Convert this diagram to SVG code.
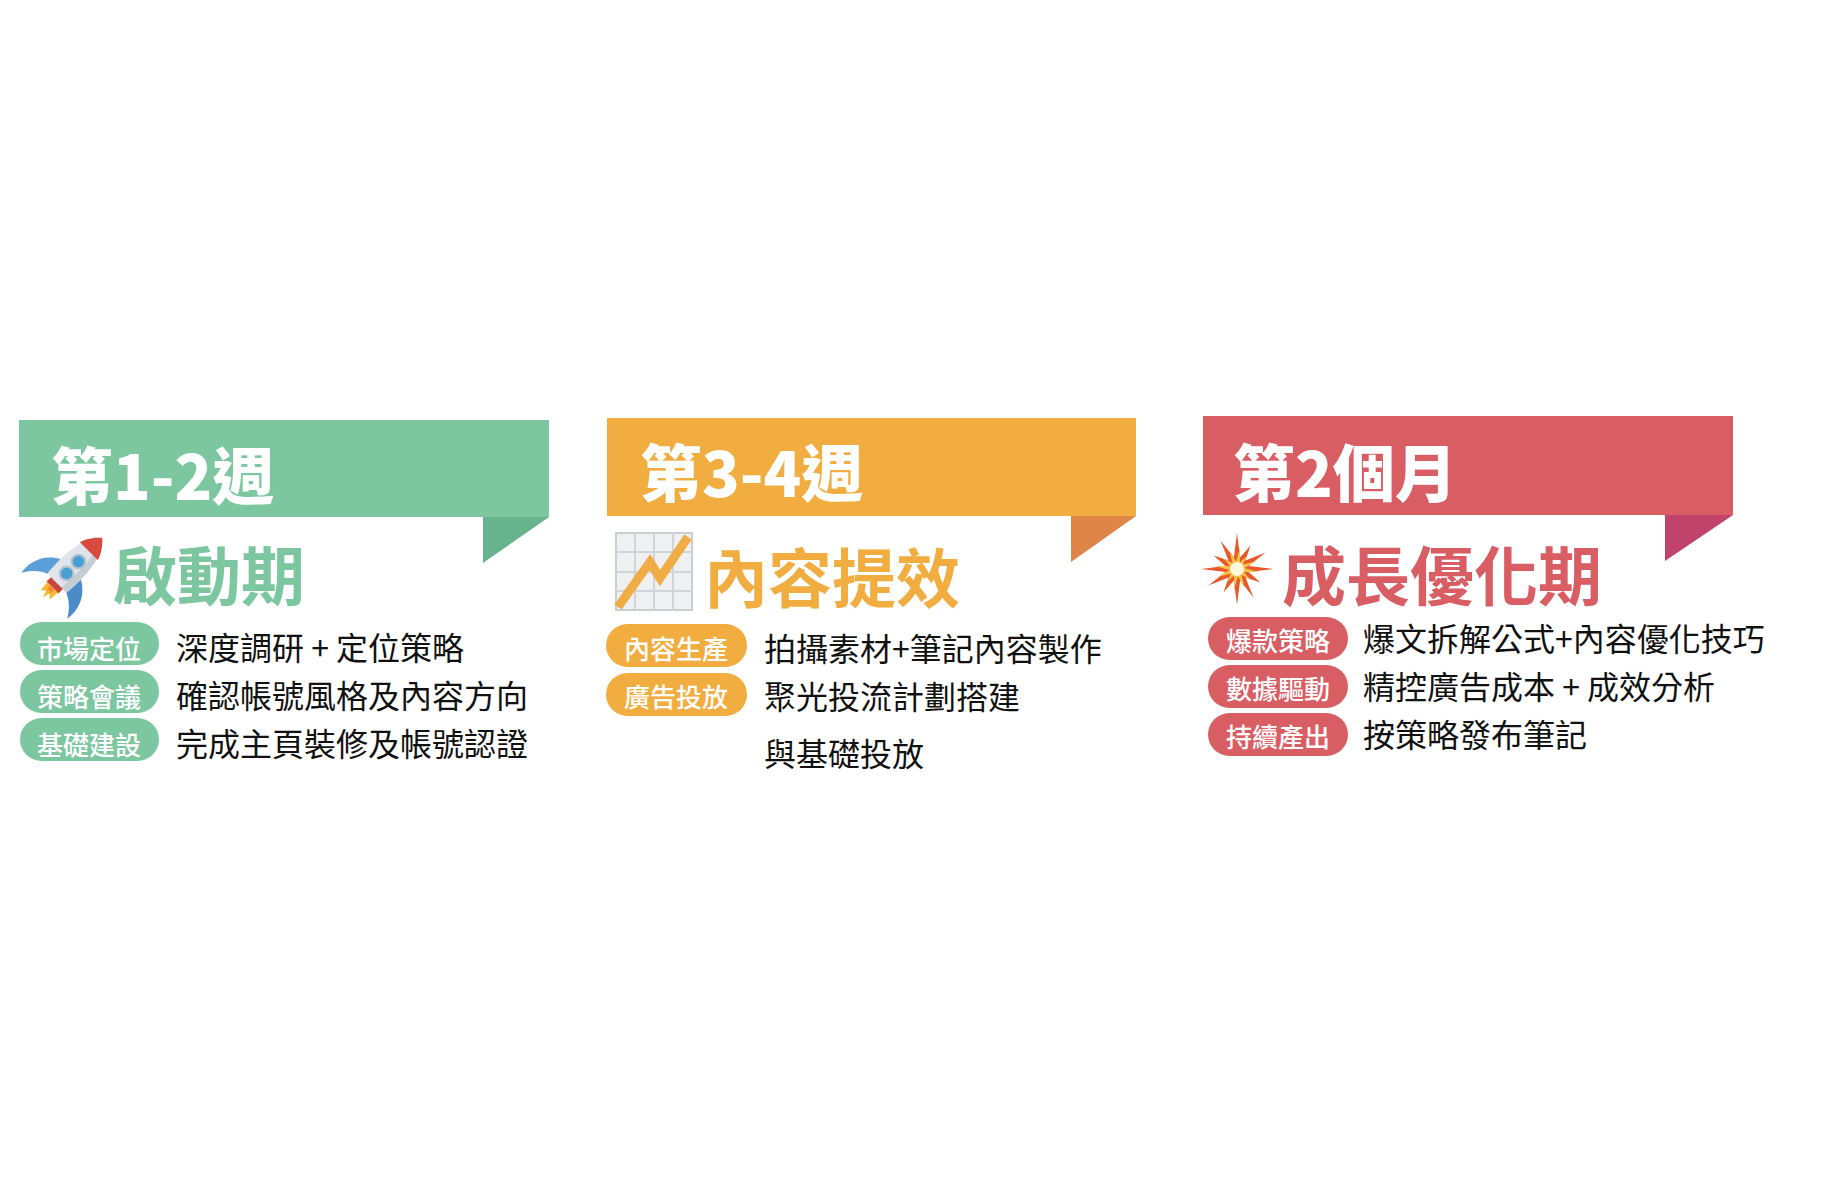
<svg xmlns="http://www.w3.org/2000/svg" xmlns:xlink="http://www.w3.org/1999/xlink" width="1824" height="1200" viewBox="0 0 1824 1200">
<style>
  .t { font-family: "Noto Sans CJK TC", "Noto Sans CJK SC", sans-serif; }
  .title { font-size: 62px; font-weight: 900; fill: #ffffff; }
  .sub { font-size: 64px; font-weight: 700; }
  .pill { font-size: 26px; font-weight: 500; fill: #ffffff; text-anchor: middle; }
  .desc { font-size: 32px; font-weight: 400; fill: #111111; }
  .g { fill: #7cc6a0; }
  .gf { fill: #67b38e; }
  .o { fill: #f1ad3f; }
  .of { fill: #df8548; }
  .r { fill: #d95e64; }
  .rf { fill: #c1426b; }
</style>
<defs>
  <polygon id="burst" points="0,-36 3.1,-11.6 13.5,-23.4 8.5,-8.5 28.6,-16.5 11.6,-3.1 36,0 11.6,3.1 23.4,13.5 8.5,8.5 16.5,28.6 3.1,11.6 0,36 -3.1,11.6 -13.5,23.4 -8.5,8.5 -28.6,16.5 -11.6,3.1 -36,0 -11.6,-3.1 -23.4,-13.5 -8.5,-8.5 -16.5,-28.6 -3.1,-11.6"/>
</defs>
<rect width="1824" height="1200" fill="#ffffff"/>

<g id="phase1">
  <rect class="g" x="19" y="420" width="530" height="97"/>
  <polygon class="gf" points="483,517 549,517 483,563"/>
  <text class="t title" x="51" y="500">第1-2週</text>
  <g id="rocket" transform="translate(71,569) rotate(45) scale(1.05)">
    <path d="M-13,0 C-28,8 -33,22 -31,36 C-25,26 -18,21 -12,19 Z" fill="#5a9fd8"/>
    <path d="M13,0 C28,8 33,22 31,36 C25,26 18,21 12,19 Z" fill="#4a8cc9"/>
    <path d="M0,-42 C14,-30 15,-5 13,19 L-13,19 C-15,-5 -14,-30 0,-42 Z" fill="#dfe5ea"/>
    <path d="M0,-42 C14,-30 15,-5 13,19 L6,19 C8,-5 7,-30 0,-42 Z" fill="#c5cdd4"/>
    <path d="M0,-42 C8,-35 11,-28 12,-24 L-12,-24 C-11,-28 -8,-35 0,-42 Z" fill="#d84a3f"/>
    <circle cx="0" cy="-10" r="6.5" fill="#4a9fd6" stroke="#b8c2cb" stroke-width="2"/>
    <circle cx="0" cy="6" r="6.5" fill="#4a9fd6" stroke="#b8c2cb" stroke-width="2"/>
    <rect x="-8" y="19" width="16" height="6" fill="#c9473b"/>
    <path d="M-7,25 L7,25 L6,35 L2,31 L0,38 L-2,31 L-6,35 Z" fill="#f7b731"/>
    <path d="M-3,25 L3,25 L2,31 L0,29 L-2,31 Z" fill="#f58b2f"/>
  </g>
  <text class="t sub g" x="113" y="600">啟動期</text>
  <rect class="g" x="20" y="622" width="139" height="43" rx="21.5"/>
  <rect class="g" x="20" y="670" width="139" height="43" rx="21.5"/>
  <rect class="g" x="20" y="718" width="139" height="43" rx="21.5"/>
  <text class="t pill" x="89" y="659">市場定位</text>
  <text class="t pill" x="89" y="707">策略會議</text>
  <text class="t pill" x="89" y="755">基礎建設</text>
  <text class="t desc" x="176" y="660">深度調研 + 定位策略</text>
  <text class="t desc" x="176" y="708">確認帳號風格及內容方向</text>
  <text class="t desc" x="176" y="756">完成主頁裝修及帳號認證</text>
</g>

<g id="phase2">
  <rect class="o" x="607" y="418" width="529" height="98"/>
  <polygon class="of" points="1071,516 1136,516 1071,562"/>
  <text class="t title" x="640" y="497">第3-4週</text>
  <g id="chart">
    <rect x="616" y="533" width="76" height="77" fill="#eef0f2" stroke="#c9ced3" stroke-width="2"/>
    <path d="M635,533 V610 M654,533 V610 M673,533 V610 M616,552 H692 M616,572 H692 M616,591 H692" stroke="#cfd4d8" stroke-width="2" fill="none"/>
    <polyline points="618,607 650,562 660,578 688,537" fill="none" stroke="#f0ad45" stroke-width="9" stroke-linejoin="miter"/>
  </g>
  <text class="t sub o" x="704" y="602">內容提效</text>
  <rect class="o" x="606" y="624" width="141" height="43" rx="21.5"/>
  <rect class="o" x="606" y="673" width="141" height="43" rx="21.5"/>
  <text class="t pill" x="676" y="659">內容生產</text>
  <text class="t pill" x="676" y="707">廣告投放</text>
  <text class="t desc" x="764" y="661">拍攝素材+筆記內容製作</text>
  <text class="t desc" x="764" y="709">聚光投流計劃搭建</text>
  <text class="t desc" x="764" y="766">與基礎投放</text>
</g>

<g id="phase3">
  <rect class="r" x="1203" y="416" width="530" height="99"/>
  <polygon class="rf" points="1665,515 1733,515 1665,561"/>
  <text class="t title" x="1233" y="497">第2個月</text>
  <g id="explosion" transform="translate(1237,569)">
    <use xlink:href="#burst" href="#burst" fill="#e8582a"/>
    <use xlink:href="#burst" href="#burst" fill="#f7c24a" transform="scale(0.62) rotate(8)"/>
    <circle r="7" fill="#fff8dc"/>
  </g>
  <text class="t sub r" x="1282" y="600">成長優化期</text>
  <rect class="r" x="1208" y="617" width="140" height="43" rx="21.5"/>
  <rect class="r" x="1208" y="665" width="140" height="43" rx="21.5"/>
  <rect class="r" x="1208" y="713" width="140" height="43" rx="21.5"/>
  <text class="t pill" x="1278" y="651">爆款策略</text>
  <text class="t pill" x="1278" y="699">數據驅動</text>
  <text class="t pill" x="1278" y="747">持續產出</text>
  <text class="t desc" x="1363" y="651">爆文拆解公式+內容優化技巧</text>
  <text class="t desc" x="1363" y="699">精控廣告成本 + 成效分析</text>
  <text class="t desc" x="1363" y="747">按策略發布筆記</text>
</g>
</svg>
